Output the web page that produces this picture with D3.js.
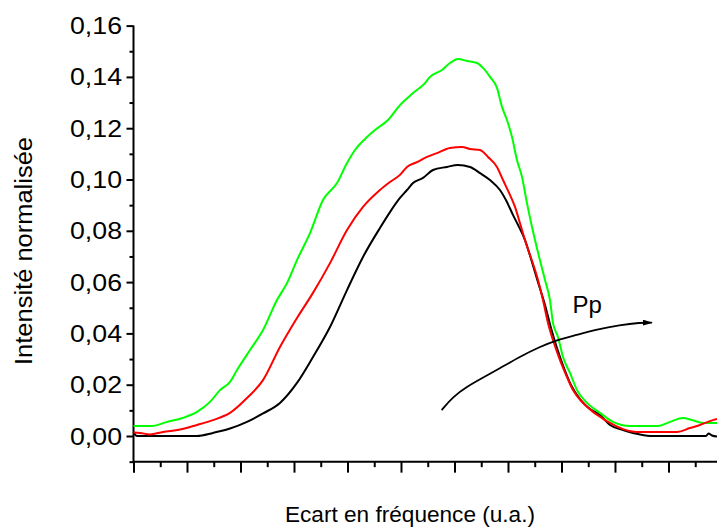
<!DOCTYPE html>
<html>
<head>
<meta charset="utf-8">
<script src="https://cdn.jsdelivr.net/npm/d3@7"></script>
<style>
  html, body { margin: 0; padding: 0; background: #fff; }
  svg { display: block; }
  text { font-family: "Liberation Sans", Arial, sans-serif; fill: #000; }
</style>
</head>
<body>
<svg id="chart" width="717" height="530"></svg>
<script>
// ---- Data (arbitrary frequency units; one unit = one major x tick) ----
const greenX = [0,0.346,0.626,0.916,1.187,1.43,1.617,1.804,1.935,2.178,2.421,2.682,2.869,3.056,3.299,3.542,3.804,3.991,4.14,4.327,4.514,4.757,4.981,5.224,5.449,5.542,5.766,5.916,6.065,6.234,6.421,6.533,6.664,6.794,6.888,6.981,7.075,7.168,7.262,7.355,7.449,7.505,7.692,7.785,7.841,7.935,8.028,8.159,8.29,8.477,8.72,8.963,9.28,9.804,10.028,10.271,10.439,10.645,10.907];
const greenY = [0.0039,0.0039,0.0055,0.007,0.0094,0.0133,0.0179,0.0211,0.0257,0.0335,0.0413,0.053,0.0596,0.0686,0.0791,0.092,0.0986,0.1064,0.1115,0.1158,0.1193,0.1232,0.129,0.1337,0.1376,0.14,0.1427,0.1454,0.147,0.1462,0.1454,0.1435,0.14,0.1357,0.1283,0.1232,0.1166,0.1076,0.101,0.0908,0.0815,0.0764,0.0608,0.053,0.0441,0.0386,0.0308,0.0246,0.0179,0.0129,0.009,0.0055,0.0039,0.0039,0.0055,0.007,0.0062,0.0051,0.0051];

const redX = [0,0.121,0.308,0.551,0.869,1.187,1.486,1.804,2.121,2.421,2.738,3.056,3.355,3.673,3.991,4.29,4.607,4.794,4.981,5.112,5.299,5.486,5.673,5.916,6.14,6.29,6.477,6.626,6.794,6.907,7.037,7.131,7.224,7.318,7.561,7.654,7.748,7.841,7.972,8.103,8.215,8.402,8.589,8.757,8.907,9.15,9.411,10.159,10.402,10.589,10.776,10.907];
const redY = [0.0014,0.0012,0.0006,0.0016,0.0025,0.0043,0.0062,0.009,0.0148,0.0218,0.0347,0.046,0.0558,0.0674,0.0803,0.0893,0.0959,0.099,0.1018,0.1049,0.1068,0.1088,0.1103,0.1123,0.1127,0.1119,0.1115,0.1088,0.1049,0.0998,0.094,0.0893,0.083,0.0764,0.0608,0.053,0.0441,0.0374,0.0296,0.023,0.0179,0.0129,0.0094,0.007,0.0051,0.0027,0.0016,0.0016,0.0031,0.0043,0.0058,0.0066];

const blackX = [0,0.065,1.187,1.486,1.804,2.121,2.421,2.738,3.056,3.355,3.673,3.991,4.29,4.607,4.794,4.981,5.112,5.224,5.411,5.598,5.86,6.065,6.29,6.477,6.664,6.85,6.981,7.093,7.187,7.318,7.449,7.561,7.692,7.804,7.916,8.047,8.178,8.346,8.533,8.72,8.907,9.15,9.336,9.654,10.701,10.748,10.813,10.907];
const blackY = [0.0016,0,0,0.0012,0.0029,0.0055,0.0088,0.0129,0.0207,0.0308,0.0425,0.0569,0.0698,0.0811,0.0873,0.0928,0.0959,0.0986,0.1006,0.1037,0.1049,0.1057,0.1049,0.1025,0.0998,0.0959,0.0912,0.0862,0.0823,0.0764,0.0678,0.06,0.0511,0.0421,0.0343,0.0265,0.0199,0.0144,0.0105,0.0082,0.0043,0.0023,0.0012,0,0,0.001,0.0002,-0.0002];

// Annotation arrow "Pp"
const arrowX = [5.76,5.97,6.23,6.51,6.85,7.22,7.6,7.91,8.28,8.66,9.09,9.47,9.69];
const arrowY = [0.0101,0.0153,0.0192,0.0225,0.0264,0.0309,0.0348,0.0374,0.0394,0.0416,0.0433,0.0442,0.0442];
const arrowLabel = "Pp";

const yTickValues = [0,0.02,0.04,0.06,0.08,0.10,0.12,0.14,0.16];
const yMinorValues = [-0.01,0.01,0.03,0.05,0.07,0.09,0.11,0.13,0.15];
const xMajorValues = [0,1,2,3,4,5,6,7,8,9,10];
const xMinorValues = [0.5,1.5,2.5,3.5,4.5,5.5,6.5,7.5,8.5,9.5,10.5];
const xTitle = "Ecart en fréquence (u.a.)";
const yTitle = "Intensité normalisée";

// ---- Layout ----
const svg = d3.select("#chart");
const mLeft = 133.5, mRight = 717, mTop = 25.6, mBottom = 461.65;
const x = d3.scaleLinear().domain([0, 10.907]).range([mLeft, mRight]);
const y = d3.scaleLinear().domain([-0.01, 0.16]).range([mBottom, mTop]);
const fmt = v => d3.format(".2f")(v).replace(".", ",");

// Y axis
const yAxis = svg.append("g").attr("transform", `translate(${mLeft},0)`)
  .call(d3.axisLeft(y).tickValues(yTickValues).tickSize(7).tickFormat(fmt).tickPadding(4));
yAxis.select(".domain").attr("stroke-width", 2).attr("d", `M0,${mTop}V${mBottom}`);
yAxis.selectAll(".tick line").attr("stroke-width", 2);
yAxis.selectAll(".tick text")
  .attr("font-family", "Liberation Sans, Arial, sans-serif")
  .attr("font-size", 23).attr("x", -11.5).attr("dy", 8)
  .attr("textLength", 52).attr("lengthAdjust", "spacingAndGlyphs");
svg.append("g").attr("transform", `translate(${mLeft},0)`)
  .call(d3.axisLeft(y).tickValues(yMinorValues).tickSize(4).tickFormat(""))
  .call(g => g.select(".domain").remove())
  .selectAll(".tick line").attr("stroke-width", 2);

// X axis
const xAxis = svg.append("g").attr("transform", `translate(0,${mBottom})`)
  .call(d3.axisBottom(x).tickValues(xMajorValues).tickSize(11).tickFormat(""));
xAxis.select(".domain").attr("stroke-width", 2).attr("d", `M${mLeft},0H${mRight}`);
xAxis.selectAll(".tick line").attr("stroke-width", 2);
svg.append("g").attr("transform", `translate(0,${mBottom})`)
  .call(d3.axisBottom(x).tickValues(xMinorValues).tickSize(5.5).tickFormat(""))
  .call(g => g.select(".domain").remove())
  .selectAll(".tick line").attr("stroke-width", 2);

// Curves
const line = d3.line().x(d => x(d[0])).y(d => y(d[1])).curve(d3.curveMonotoneX);
const series = [
  {xs: blackX, ys: blackY, color: "#000000"},
  {xs: greenX, ys: greenY, color: "#00ff00"},
  {xs: redX, ys: redY, color: "#ff0000"}
];
series.forEach(s => {
  svg.append("path")
    .datum(s.xs.map((v, i) => [v, s.ys[i]]))
    .attr("fill", "none").attr("stroke", s.color)
    .attr("stroke-width", 2).attr("stroke-linejoin", "round")
    .attr("d", line);
});

// Arrow
svg.append("defs").append("marker")
  .attr("id", "arrowhead").attr("viewBox", "0 0 10 6")
  .attr("refX", 9).attr("refY", 3)
  .attr("markerWidth", 10).attr("markerHeight", 6)
  .attr("markerUnits", "userSpaceOnUse").attr("orient", "auto")
  .append("path").attr("d", "M0,0L10,3L0,6Z").attr("fill", "#000");
svg.append("path")
  .datum(arrowX.map((v, i) => [v, arrowY[i]]))
  .attr("fill", "none").attr("stroke", "#000").attr("stroke-width", 1.8)
  .attr("d", d3.line().x(d => x(d[0])).y(d => y(d[1])).curve(d3.curveBasis))
  .attr("marker-end", "url(#arrowhead)");
svg.append("text")
  .attr("x", x(arrowX[8]) - 4).attr("y", y(arrowY[12]) - 10)
  .attr("font-size", 24).text(arrowLabel);

// Titles
svg.append("text").attr("x", 410).attr("y", 522)
  .attr("text-anchor", "middle").attr("font-size", 22.5)
  .attr("textLength", 250).attr("lengthAdjust", "spacingAndGlyphs")
  .text(xTitle);
svg.append("text").attr("transform", "translate(32,251) rotate(-90)")
  .attr("text-anchor", "middle").attr("font-size", 23)
  .attr("textLength", 228).attr("lengthAdjust", "spacingAndGlyphs")
  .text(yTitle);
</script>
</body>
</html>
